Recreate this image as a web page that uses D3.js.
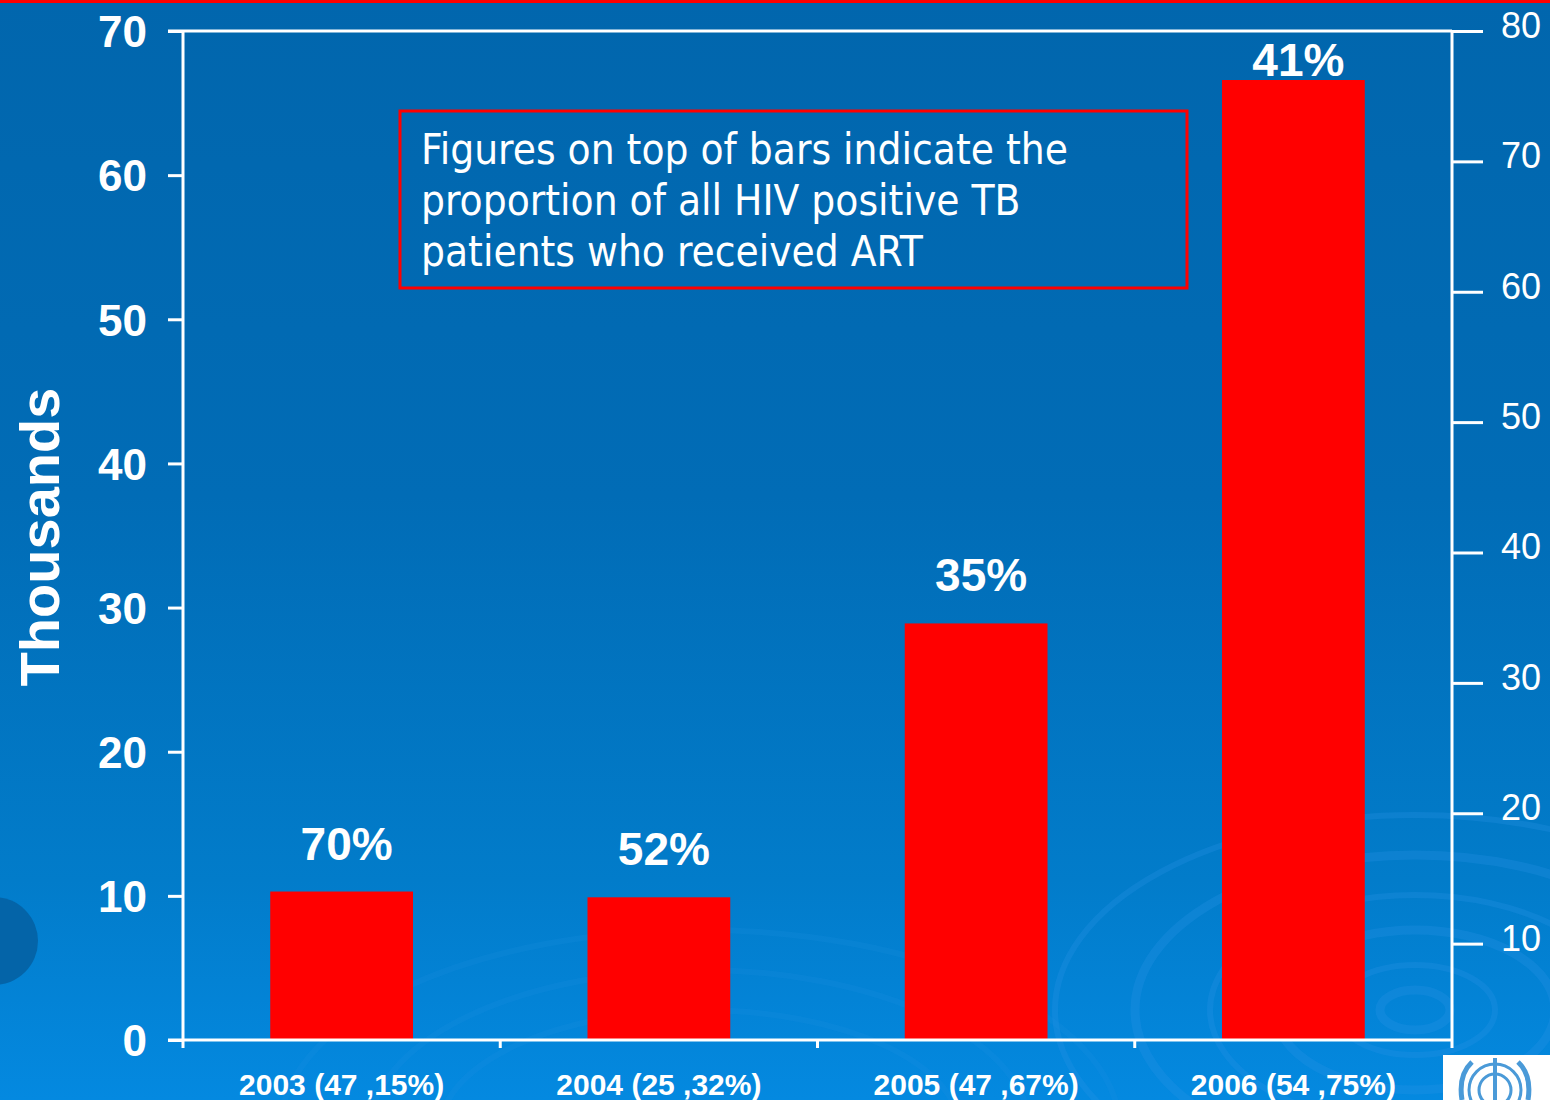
<!DOCTYPE html>
<html>
<head>
<meta charset="utf-8">
<script src="https://cdn.jsdelivr.net/npm/d3@7"></script>
<style>
  html, body { margin: 0; padding: 0; background: #0167ae; overflow: hidden; }
  svg { display: block; }
</style>
</head>
<body>
<script>
// ART uptake among HIV-positive TB patients, by year
const categories = ["2003 (47 ,15%)", "2004 (25 ,32%)", "2005 (47 ,67%)", "2006 (54 ,75%)"];
const valuesThousands = [10.3, 9.9, 28.9, 66.6];
const artShareLabels = ["70%", "52%", "35%", "41%"];
const leftTicks = [0, 10, 20, 30, 40, 50, 60, 70];
const rightTicks = [10, 20, 30, 40, 50, 60, 70, 80];
const noteLines = [
  "Figures on top of bars indicate the",
  "proportion of all HIV positive TB",
  "patients who received ART"
];
const yAxisTitle = "Thousands";

const W = 1550, H = 1100;
const plot = { left: 183, right: 1452, top: 31, bottom: 1040 };
const WHITE = "#ffffff", RED = "#ff0000";
const SANS = "'Liberation Sans', Arial, sans-serif";

const svg = d3.select("body").append("svg").attr("width", W).attr("height", H);
const defs = svg.append("defs");

// Background: deep blue slide gradient
const bg = defs.append("linearGradient").attr("id", "bg").attr("x1", 0).attr("y1", 0).attr("x2", 0).attr("y2", 1);
bg.append("stop").attr("offset", "0%").attr("stop-color", "#0166ad");
bg.append("stop").attr("offset", "45%").attr("stop-color", "#016cb6");
bg.append("stop").attr("offset", "80%").attr("stop-color", "#027cca");
bg.append("stop").attr("offset", "100%").attr("stop-color", "#0489e0");
svg.append("rect").attr("width", W).attr("height", H).attr("fill", "url(#bg)");

// Decorative ripples in the lower part of the slide
const deco = svg.append("g").attr("fill", "none").attr("stroke", "#2a95e6").attr("stroke-opacity", 0.28);
[[35, 20], [80, 45], [140, 80], [205, 115], [280, 155], [360, 195]].forEach(([rx, ry], i) => {
  deco.append("ellipse").attr("cx", 1415).attr("cy", 1010).attr("rx", rx).attr("ry", ry)
    .attr("stroke-width", i % 2 ? 6 : 9);
});
[[260, 120], [330, 160], [420, 200]].forEach(([rx, ry]) => {
  deco.append("ellipse").attr("cx", 700).attr("cy", 1130).attr("rx", rx).attr("ry", ry)
    .attr("stroke-width", 6).attr("stroke-opacity", 0.15);
});
// Dark disc on the left edge
svg.append("circle").attr("cx", -6).attr("cy", 941).attr("r", 44).attr("fill", "#0464a8");

// Red rule along the top edge
svg.append("rect").attr("x", 0).attr("y", 0).attr("width", W).attr("height", 3).attr("fill", RED);

// Scales
const x = d3.scaleBand().domain(categories).range([plot.left, plot.right]).paddingInner(0).paddingOuter(0);
const yL = d3.scaleLinear().domain([0, 70]).range([plot.bottom, plot.top]);
const yR = d3.scaleLinear().domain([0, 80]).range([1074, plot.top]);
const barFrac = 0.45;

// Bars
svg.append("g").selectAll("rect").data(valuesThousands).join("rect")
  .attr("x", (d, i) => x(categories[i]) + x.bandwidth() * (1 - barFrac) / 2)
  .attr("width", x.bandwidth() * barFrac)
  .attr("y", d => yL(d))
  .attr("height", d => yL(0) - yL(d))
  .attr("fill", RED);

// Percentage labels above bars
svg.append("g").selectAll("text").data(valuesThousands).join("text")
  .attr("x", (d, i) => x(categories[i]) + x.bandwidth() / 2 + 5)
  .attr("y", d => Math.max(yL(d) - 32, plot.top + 45))
  .attr("text-anchor", "middle")
  .attr("font-family", SANS).attr("font-weight", "bold").attr("font-size", 46)
  .attr("fill", WHITE)
  .text((d, i) => artShareLabels[i]);

// Frame lines
const frame = svg.append("g").attr("stroke", WHITE).attr("stroke-width", 3).attr("fill", "none");
frame.append("line").attr("x1", plot.left - 15).attr("x2", plot.right).attr("y1", plot.top).attr("y2", plot.top);
frame.append("line").attr("x1", plot.left - 15).attr("x2", plot.right).attr("y1", plot.bottom).attr("y2", plot.bottom);
frame.append("line").attr("x1", plot.left).attr("x2", plot.left).attr("y1", plot.top).attr("y2", plot.bottom + 8);
frame.append("line").attr("x1", plot.right).attr("x2", plot.right).attr("y1", plot.top).attr("y2", plot.bottom + 8);

// Left axis
const gL = svg.append("g").attr("transform", `translate(${plot.left},0)`)
  .call(d3.axisLeft(yL).tickValues(leftTicks).tickSize(15).tickPadding(21));
gL.select(".domain").remove();
gL.selectAll(".tick line").attr("stroke", WHITE).attr("stroke-width", 3);
gL.selectAll(".tick text").attr("fill", WHITE).attr("font-family", SANS)
  .attr("font-weight", "bold").attr("font-size", 44).attr("dy", "0.36em");

// Right axis
const gR = svg.append("g").attr("transform", `translate(${plot.right},0)`)
  .call(d3.axisRight(yR).tickValues(rightTicks).tickSize(31).tickPadding(18));
gR.select(".domain").remove();
gR.selectAll(".tick line").attr("stroke", WHITE).attr("stroke-width", 3);
gR.selectAll(".tick text").attr("fill", WHITE).attr("font-family", SANS)
  .attr("font-size", 36).attr("dy", "0.18em");

// Bottom axis: category labels, tick marks on category boundaries
const gB = svg.append("g").attr("transform", `translate(0,${plot.bottom})`)
  .call(d3.axisBottom(x).tickSize(0).tickPadding(0));
gB.select(".domain").remove();
gB.selectAll(".tick text").attr("fill", WHITE).attr("font-family", SANS)
  .attr("font-weight", "bold").attr("font-size", 30).attr("y", 55).attr("dy", 0);
svg.append("g").attr("stroke", WHITE).attr("stroke-width", 3).selectAll("line")
  .data(categories.slice(1)).join("line")
  .attr("x1", d => x(d)).attr("x2", d => x(d))
  .attr("y1", plot.bottom).attr("y2", plot.bottom + 8);

// Y-axis title
svg.append("text")
  .attr("transform", "translate(59,537) rotate(-90)")
  .attr("text-anchor", "middle")
  .attr("font-family", SANS).attr("font-weight", "bold").attr("font-size", 56)
  .attr("fill", WHITE).text(yAxisTitle);

// Note box
const note = svg.append("g");
note.append("rect").attr("x", 400).attr("y", 111).attr("width", 787).attr("height", 177)
  .attr("fill", "none").attr("stroke", RED).attr("stroke-width", 3);
const noteText = note.append("g").attr("fill", WHITE)
  .attr("font-family", "'DejaVu Sans Condensed', Tahoma, sans-serif");
const nt = noteText.selectAll("text").data(noteLines).join("text")
  .attr("x", 421).attr("y", (d, i) => 164 + i * 51)
  .attr("font-size", 42).text(d => d);
// size the note so the first line spans its measured width
const firstLen = nt.node().getComputedTextLength();
const fs = 42 * 647 / firstLen;
nt.attr("font-size", fs);

// Emblem tile in the lower right corner
const logo = svg.append("g");
logo.append("rect").attr("x", 1443).attr("y", 1055).attr("width", 107).attr("height", 45).attr("fill", WHITE);
const lg = logo.append("g").attr("fill", "none").attr("stroke", "#4a9ad8").attr("stroke-width", 3);
lg.append("circle").attr("cx", 1495).attr("cy", 1090).attr("r", 26);
lg.append("circle").attr("cx", 1495).attr("cy", 1090).attr("r", 16);
lg.append("line").attr("x1", 1495).attr("x2", 1495).attr("y1", 1058).attr("y2", 1100).attr("stroke-width", 4);
lg.append("path").attr("d", "M1462,1100 Q1458,1075 1472,1062 M1528,1100 Q1532,1075 1518,1062").attr("stroke-width", 5);
</script>
</body>
</html>
